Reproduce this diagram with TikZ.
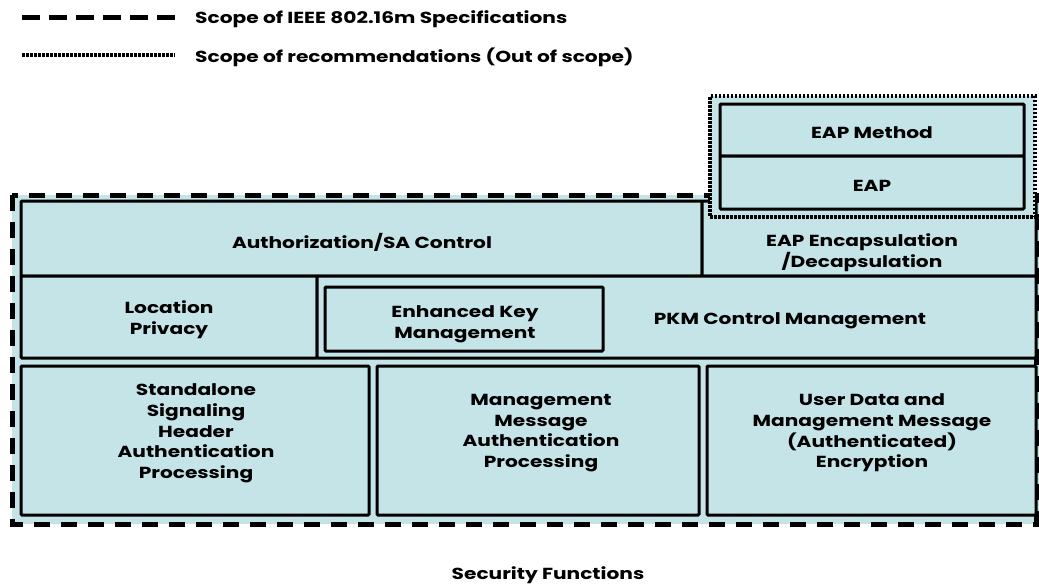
\documentclass[tikz,border=0pt]{standalone}
\usepackage{fontspec}
\setmainfont{Poppins}[FakeStretch=1.26]
\definecolor{lb}{RGB}{196,228,232}
\begin{document}
\begin{tikzpicture}[x=1pt,y=-1pt,
  box/.style={draw=black, line width=3pt, fill=lb, rounded corners=1pt, inner sep=0pt},
  txt/.style={font=\bfseries\fontsize{16}{20.7}\selectfont, align=center, inner sep=0pt, yshift=-2pt},
  dashline/.style={line width=5pt, dash pattern=on 16pt off 11pt},
  dotline/.style={line width=4pt, dash pattern=on 2.5pt off 1.5pt}]
\useasboundingbox (0,0) rectangle (1039,584);
% legend
\coordinate (l1a) at (22,17); \coordinate (l1b) at (178,17);
\draw[line width=5pt, dash pattern=on 18pt off 9pt] (l1a) -- (l1b);
\node[txt, anchor=west] (leg1) at (195,17) {Scope of IEEE 802.16m Specifications};
\coordinate (l2a) at (22,55); \coordinate (l2b) at (175,55);
\draw[dotline] (l2a) -- (l2b);
\node[txt, anchor=west] (leg2) at (195,55) {Scope of recommendations (Out of scope)};
% outer scope
\fill[lb] (12,195) rectangle (1039,524);
\draw[dashline] (12,195) rectangle (1036,524);
% row 1
\node[box, minimum width=681pt, minimum height=75pt] (auth) at (361.5,238.5) {};
\node[txt] (authT) at (362,240) {Authorization/SA Control};
\node[box, minimum width=334pt, minimum height=75pt] (enc) at (869,238.5) {};
\node[txt] (encT) at (862,251) {EAP Encapsulation\\/Decapsulation};
% EAP out of scope
\node[dotline, draw=black, fill=lb, minimum width=325pt, minimum height=121pt, inner sep=0pt] (oos) at (872.5,156.5) {};
\node[box, minimum width=304pt, minimum height=52pt] (meth) at (872,130) {};
\node[txt] (methT) at (872,131) {EAP Method};
\node[box, minimum width=304pt, minimum height=53pt] (eap) at (872,182.5) {};
\node[txt] (eapT) at (872,184) {EAP};
% row 2
\node[box, minimum width=296pt, minimum height=82pt] (loc) at (169,317) {};
\node[txt] (locT) at (169,318) {Location\\Privacy};
\node[box, minimum width=719pt, minimum height=82pt] (pkm) at (676.5,317) {};
\node[txt] (pkmT) at (790,319) {PKM Control Management};
\node[box, minimum width=278pt, minimum height=64pt] (ekm) at (464,319) {};
\node[txt] (ekmT) at (465,322) {Enhanced Key\\Management};
% row 3
\node[box, minimum width=348pt, minimum height=149pt] (ssh) at (195,440.5) {};
\node[txt] (sshT) at (196,431.5) {Standalone\\Signaling\\Header\\Authentication\\Processing};
\node[box, minimum width=322pt, minimum height=149pt] (mma) at (538,440.5) {};
\node[txt] (mmaT) at (541,431) {Management\\Message\\Authentication\\Processing};
\node[box, minimum width=329pt, minimum height=149pt] (ude) at (871.5,440.5) {};
\node[txt] (udeT) at (872,431) {User Data and\\Management Message\\(Authenticated)\\Encryption};
% caption
\node[txt] (cap) at (548,573) {Security Functions};
\end{tikzpicture}
\end{document}
